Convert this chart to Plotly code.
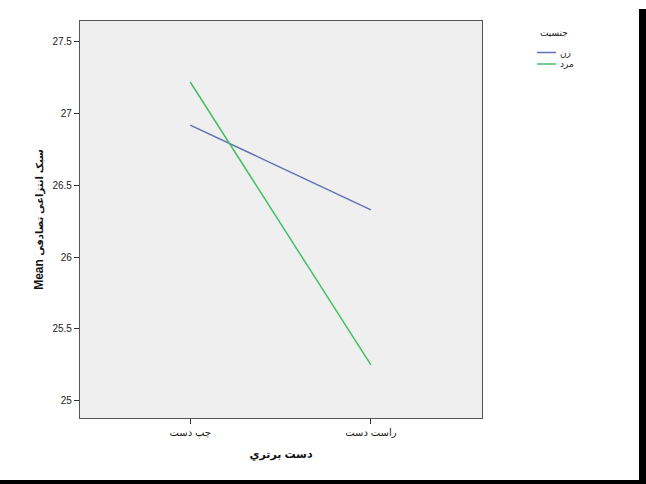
import plotly.graph_objects as go

# Estimated marginal means by preferred hand and gender
hands = ["چپ دست", "راست دست"]
women = [26.92, 26.33]
men = [27.22, 25.25]
series_names = ["زن", "مرد"]
series_colors = ["#6470b4", "#45bf66"]
legend_title = "جنسیت"

# plot-area geometry in pixels (used to place the key in paper units)
PX_L, PX_R, PX_T, PX_B = 80, 482, 21, 418


def px_x(px):
    return (px - PX_L) / (PX_R - PX_L)


def px_y(py):
    return (PX_B - py) / (PX_B - PX_T)


fig = go.Figure()
for name, vals, col in zip(series_names, [women, men], series_colors):
    fig.add_trace(go.Scatter(
        x=[0, 1], y=vals, mode="lines", name=name,
        line=dict(color=col, width=1.5), showlegend=False,
    ))

axis_common = dict(
    showline=True, linecolor="#555555", linewidth=1.3, mirror=True,
    ticks="outside", ticklen=5, tickcolor="#333333", tickwidth=1,
    showgrid=False, zeroline=False,
    tickfont=dict(family="Arial, DejaVu Sans", size=10, color="#222222"),
)

# key: title plus one short line sample and label per series
shapes = []
annotations = [dict(
    xref="paper", yref="paper", x=px_x(554), y=px_y(33), text=legend_title,
    showarrow=False, xanchor="center", yanchor="middle",
    font=dict(family="Arial, DejaVu Sans", size=9, color="#222222"),
)]
for i, (name, col) in enumerate(zip(series_names, series_colors)):
    yy = 52.5 + i * 11.5
    shapes.append(dict(type="line", xref="paper", yref="paper",
                       x0=px_x(537), x1=px_x(556), y0=px_y(yy), y1=px_y(yy),
                       line=dict(color=col, width=1.5)))
    annotations.append(dict(
        xref="paper", yref="paper", x=px_x(558), y=px_y(yy), text=name,
        showarrow=False, xanchor="left", yanchor="middle",
        font=dict(family="Arial, DejaVu Sans", size=9, color="#222222"),
    ))

# frame edges of the page
shapes += [
    dict(type="rect", xref="paper", yref="paper", x0=px_x(639), x1=px_x(660),
         y0=px_y(500), y1=px_y(9), fillcolor="black", line=dict(width=0), layer="above"),
    dict(type="rect", xref="paper", yref="paper", x0=px_x(-10), x1=px_x(660),
         y0=px_y(500), y1=px_y(480), fillcolor="black", line=dict(width=0), layer="above"),
]

fig.update_layout(
    width=646, height=484,
    margin=dict(l=PX_L, r=646 - PX_R, t=PX_T, b=484 - PX_B),
    paper_bgcolor="white", plot_bgcolor="#efefef",
    showlegend=False,
    xaxis=dict(
        **axis_common,
        tickmode="array", tickvals=[0, 1], ticktext=hands,
        range=[-0.61, 1.615],
        title=dict(text="<b>دست برتري</b>", font=dict(family="Arial, DejaVu Sans", size=11, color="#111111"), standoff=12),
    ),
    yaxis=dict(
        **axis_common,
        range=[24.88, 27.645],
        tickvals=[25, 25.5, 26, 26.5, 27, 27.5],
        ticktext=["25", "25.5", "26", "26.5", "27", "27.5"],
        title=dict(
            text="<b>Mean <span style='font-size:10px'>سبک انتزاعی تصادفی</span></b>",
            font=dict(family="Arial, DejaVu Sans", size=12, color="#111111"), standoff=6),
    ),
    shapes=shapes,
    annotations=annotations,
)

fig.write_html("out.html")
